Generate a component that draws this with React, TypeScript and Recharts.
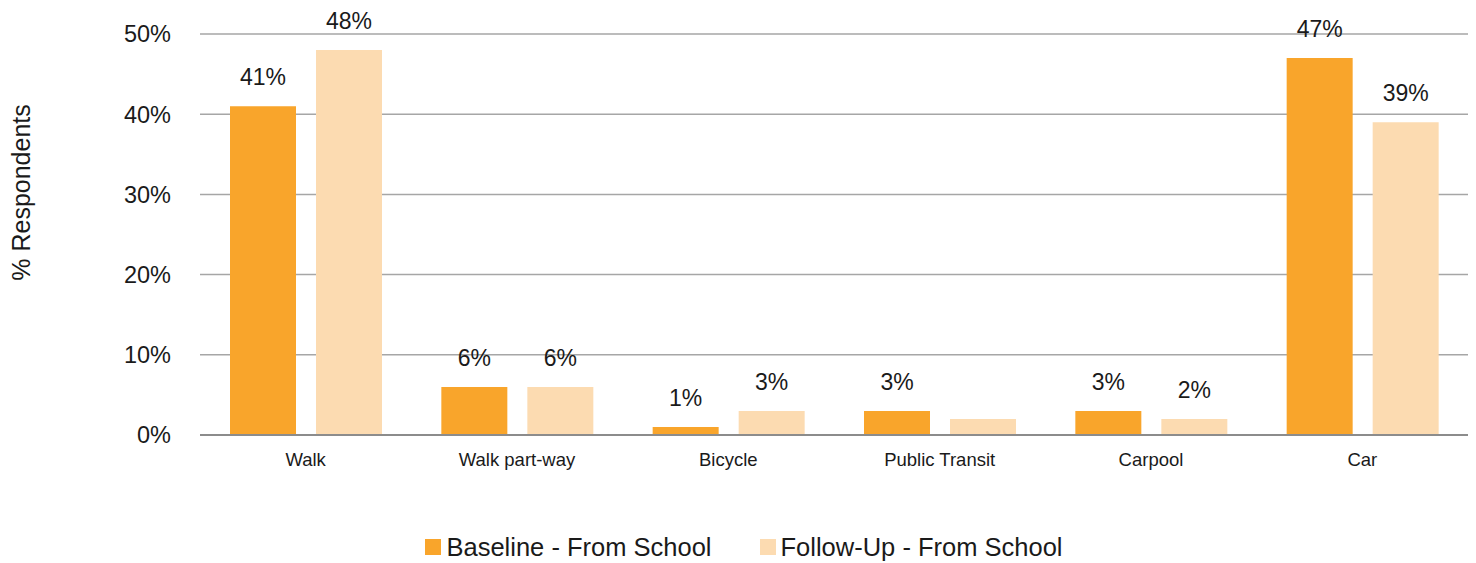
import React from 'react'
import { BarChart, Bar, XAxis, YAxis, CartesianGrid, Legend, LabelList } from 'recharts'

const categories = ['Walk', 'Walk part-way', 'Bicycle', 'Public Transit', 'Carpool', 'Car']
const baseline = [41, 6, 1, 3, 3, 47]
const followUp = [48, 6, 3, 2, 2, 39]
// the follow-up label for Public Transit is not shown in the source
const followUpHidden = ['Public Transit']
const yTicks = [0, 10, 20, 30, 40, 50]

const BASE_COLOR = '#f9a52b'
const FOLLOW_COLOR = '#fcdbb1'
const FONT = '"Liberation Sans", Arial, Helvetica, sans-serif'

const data = categories.map((name, i) => ({ name, baseline: baseline[i], followUp: followUp[i] }))

const legendItems = [
  { label: 'Baseline - From School', color: BASE_COLOR },
  { label: 'Follow-Up - From School', color: FOLLOW_COLOR },
]

function renderLegend() {
  return (
    <div style={{ display: 'flex', justifyContent: 'center', gap: 48, height: 32, alignItems: 'center', fontFamily: FONT, fontSize: 25.5, color: '#1a1a1a', paddingLeft: 20, paddingTop: 24 }}>
      {legendItems.map((it) => (
        <div key={it.label} style={{ display: 'flex', alignItems: 'center', gap: 5 }}>
          <span style={{ width: 16, height: 16, background: it.color, display: 'inline-block' }} />
          <span>{it.label}</span>
        </div>
      ))}
    </div>
  )
}

const valueLabel = (hidden: string[]) => (props: any) => {
  const { x, y, width, value, index } = props
  if (hidden.includes(categories[index])) return null
  return (
    <text x={x + width / 2} y={y - 21} textAnchor="middle" fill="#1a1a1a" fontSize={23} fontFamily={FONT}>
      {`${value}%`}
    </text>
  )
}

export default function App() {
  return (
    <div style={{ position: 'absolute', left: 0, top: 0, width: 1476, height: 563, background: '#fff' }}>
      <BarChart
        width={1476}
        height={563}
        data={data}
        margin={{ top: 34, right: 8, bottom: 0, left: 0 }}
        barCategoryGap={30}
        barGap={20}
      >
        <CartesianGrid vertical={false} stroke="#a6a6a6" strokeWidth={1.5} />
        <XAxis
          dataKey="name"
          height={72}
          tickLine={false}
          axisLine={{ stroke: '#8c8c8c', strokeWidth: 2 }}
          tick={{ fill: '#1a1a1a', fontSize: 18.5, fontFamily: FONT }}
          dy={10}
          interval={0}
        />
        <YAxis
          width={200}
          domain={[0, 50]}
          ticks={yTicks}
          tickFormatter={(v) => `${v}%`}
          axisLine={false}
          tickLine={false}
          tick={{ fill: '#1a1a1a', fontSize: 23.5, fontFamily: FONT }}
          tickMargin={23}
          label={{
            value: '% Respondents',
            angle: -90,
            position: 'insideLeft',
            dx: 16,
            dy: -42,
            style: { fill: '#1a1a1a', fontSize: 25, fontFamily: FONT, textAnchor: 'middle' },
          }}
        />
        <Legend verticalAlign="bottom" content={renderLegend} />
        <Bar dataKey="baseline" name="Baseline - From School" fill={BASE_COLOR} isAnimationActive={false}>
          <LabelList dataKey="baseline" content={valueLabel([])} />
        </Bar>
        <Bar dataKey="followUp" name="Follow-Up - From School" fill={FOLLOW_COLOR} isAnimationActive={false}>
          <LabelList dataKey="followUp" content={valueLabel(followUpHidden)} />
        </Bar>
      </BarChart>
    </div>
  )
}
